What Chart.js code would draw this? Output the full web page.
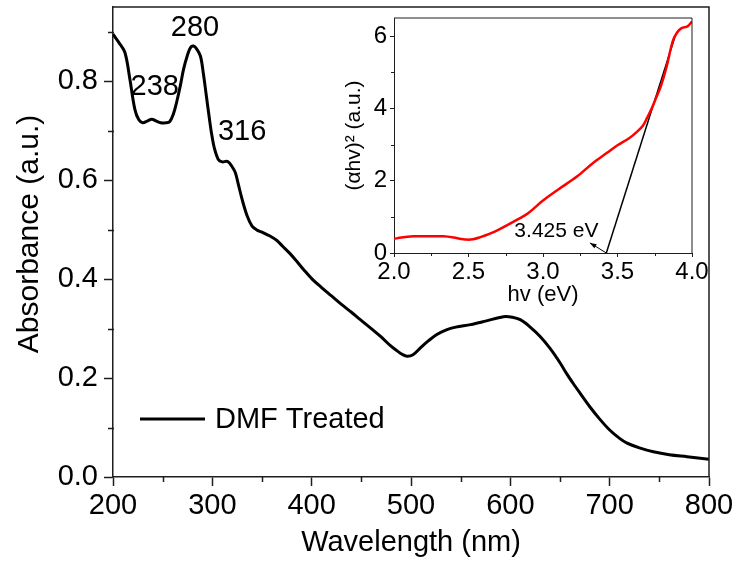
<!DOCTYPE html>
<html>
<head>
<meta charset="utf-8">
<title>DMF Treated absorbance</title>
<script src="https://cdn.jsdelivr.net/npm/chart.js@4.4.1/dist/chart.umd.min.js"></script>
<style>
  html, body { margin: 0; padding: 0; background: #fff; }
  #wrap { position: relative; width: 736px; height: 563px; }
  #main { position: absolute; left: 0; top: 0; }
  #inset { position: absolute; left: 330px; top: 0; }
</style>
</head>
<body>
<div id="wrap">
  <canvas id="main" width="736" height="563"></canvas>
  <canvas id="inset" width="380" height="310"></canvas>
</div>
<script>
// UV-vis spectrum (nm, a.u.)
const wavelength = [200, 206, 212, 217, 222, 226, 230, 235, 239, 243, 248, 253, 257, 261, 264, 268, 271, 275, 278, 281,
  284, 288, 291, 294, 297, 299, 302, 306, 310, 314, 316, 319, 323, 326, 330, 335, 340, 345, 351, 358,
  365, 371, 378, 385, 392, 401, 410, 420, 430, 440, 449, 460, 470, 479, 486, 491, 496, 502, 510, 518, 526,
  535, 545, 560, 575, 593, 602, 610, 620, 630, 640, 650, 657, 663, 670, 680, 690, 700, 710, 717, 730,
  744, 760, 778, 800];
const absorbance = [0.895, 0.878, 0.858, 0.804, 0.743, 0.722, 0.716, 0.720, 0.723, 0.720, 0.716, 0.716, 0.718, 0.735, 0.757, 0.793, 0.824, 0.853, 0.868, 0.871,
  0.866, 0.851, 0.815, 0.770, 0.725, 0.697, 0.665, 0.642, 0.637, 0.638, 0.637, 0.630, 0.616, 0.593, 0.561, 0.528, 0.507, 0.499, 0.494, 0.487,
  0.478, 0.466, 0.452, 0.436, 0.419, 0.399, 0.383, 0.366, 0.349, 0.333, 0.318, 0.300, 0.283, 0.266, 0.255, 0.248, 0.244, 0.247, 0.262, 0.276, 0.288,
  0.297, 0.303, 0.308, 0.315, 0.324, 0.323, 0.318, 0.303, 0.284, 0.260, 0.231, 0.208, 0.190, 0.170, 0.142, 0.117, 0.095, 0.078, 0.069, 0.059,
  0.051, 0.045, 0.041, 0.036];
const mainXTicks = [200, 300, 400, 500, 600, 700, 800];
const mainXMinor = [250, 350, 450, 550, 650, 750];
const mainYTicks = [0, 0.2, 0.4, 0.6, 0.8];
const mainYMinor = [0.1, 0.3, 0.5, 0.7, 0.9];
const peakText = ['238', '280', '316'];
const peakTextX = [242, 282.5, 330];
const peakTextY = [0.789, 0.907, 0.697];

// Tauc plot (eV, (αhv)^2)
const photonEnergy = [2.00, 2.05, 2.13, 2.23, 2.33, 2.40, 2.45, 2.49, 2.53, 2.58, 2.64, 2.70, 2.80, 2.90, 3.00, 3.10, 3.23, 3.33, 3.43, 3.50,
  3.58, 3.63, 3.67, 3.70, 3.73, 3.76, 3.79, 3.83, 3.87, 3.90, 3.93, 3.97, 4.00];
const taucValues = [0.39, 0.43, 0.46, 0.465, 0.46, 0.43, 0.39, 0.37, 0.38, 0.44, 0.53, 0.64, 0.86, 1.10, 1.45, 1.75, 2.12, 2.47, 2.77, 2.98,
  3.18, 3.35, 3.52, 3.75, 4.00, 4.30, 4.60, 5.16, 5.85, 6.10, 6.22, 6.27, 6.40];
const fitEnergy = [3.425, 3.886];
const fitValues = [0, 5.99];
const insetXTicks = [2.0, 2.5, 3.0, 3.5, 4.0];
const insetXMinor = [2.25, 2.75, 3.25, 3.75];
const insetYTicks = [0, 2, 4, 6];
const insetYMinor = [1, 3, 5];
const gapText = '3.425 eV';

const FONT = "'Liberation Sans', Arial, sans-serif";
const AXIS = '#1e1e1e';

function pts(xs, ys) { return xs.map((v, i) => ({ x: v, y: ys[i] })); }

// frame on top/right plus outward minor ticks
const frameTicks = {
  id: 'frameTicks',
  afterDraw(chart, args, o) {
    const { ctx, chartArea: a, scales: { x, y } } = chart;
    ctx.save();
    ctx.strokeStyle = AXIS;
    ctx.lineWidth = o.width;
    ctx.beginPath();
    o.xMinor.forEach(v => {
      const px = Math.round(x.getPixelForValue(v)) + 0.5;
      ctx.moveTo(px, a.bottom); ctx.lineTo(px, a.bottom + o.len);
    });
    o.yMinor.forEach(v => {
      const py = Math.round(y.getPixelForValue(v)) + 0.5;
      ctx.moveTo(a.left + 1, py); ctx.lineTo(a.left - o.len, py);
    });
    ctx.stroke();
    ctx.lineWidth = o.frame;
    ctx.beginPath();
    ctx.moveTo(a.left, a.top); ctx.lineTo(a.right, a.top); ctx.lineTo(a.right, a.bottom);
    ctx.stroke();
    ctx.restore();
  }
};

// peak numbers, legend entry and rotated y title
const mainNotes = {
  id: 'mainNotes',
  afterDraw(chart) {
    const { ctx, scales: { x, y } } = chart;
    ctx.save();
    ctx.fillStyle = '#000';
    ctx.font = '29px ' + FONT;
    ctx.textAlign = 'center';
    ctx.textBaseline = 'middle';
    peakText.forEach((t, i) => ctx.fillText(t, x.getPixelForValue(peakTextX[i]), y.getPixelForValue(peakTextY[i])));
    ctx.strokeStyle = '#000';
    ctx.lineWidth = 3;
    ctx.beginPath();
    ctx.moveTo(140, 419); ctx.lineTo(205, 419);
    ctx.stroke();
    ctx.textAlign = 'left';
    ctx.fillText(chart.data.datasets[0].label, 215, 420);
    ctx.translate(30, 234);
    ctx.rotate(-Math.PI / 2);
    ctx.textAlign = 'center';
    ctx.font = '30px ' + FONT;
    ctx.fillText('Absorbance (a.u.)', 0, 0);
    ctx.restore();
  }
};

// band gap label with arrow to the intercept
const gapNote = {
  id: 'gapNote',
  afterDraw(chart) {
    const { ctx, scales: { x, y } } = chart;
    const x0 = x.getPixelForValue(fitEnergy[0]), y0 = y.getPixelForValue(fitValues[0]);
    const x1 = x.getPixelForValue(3.315), y1 = y.getPixelForValue(0.28);
    ctx.save();
    ctx.strokeStyle = '#000';
    ctx.fillStyle = '#000';
    ctx.lineWidth = 1;
    ctx.beginPath();
    ctx.moveTo(x0, y0); ctx.lineTo(x1, y1);
    ctx.stroke();
    const ang = Math.atan2(y1 - y0, x1 - x0);
    ctx.beginPath();
    ctx.moveTo(x1, y1);
    ctx.lineTo(x1 - 7 * Math.cos(ang - 0.35), y1 - 7 * Math.sin(ang - 0.35));
    ctx.lineTo(x1 - 7 * Math.cos(ang + 0.35), y1 - 7 * Math.sin(ang + 0.35));
    ctx.closePath();
    ctx.fill();
    ctx.font = '21px ' + FONT;
    ctx.textAlign = 'center';
    ctx.textBaseline = 'middle';
    ctx.fillText(gapText, x.getPixelForValue(3.09), y.getPixelForValue(0.6));
    ctx.restore();
  }
};

function axis(ticks, opts) {
  return {
    type: 'linear',
    min: opts.min,
    max: opts.max,
    afterBuildTicks: s => { s.ticks = ticks.map(v => ({ value: v })); },
    afterFit: s => {
      if (opts.width) s.width = opts.width;
      if (opts.height) s.height = opts.height;
      s.paddingTop = 0; s.paddingBottom = 0; s.paddingLeft = 0; s.paddingRight = 0;
    },
    border: { display: true, color: AXIS, width: opts.frame },
    grid: { drawOnChartArea: false, drawTicks: true, tickLength: opts.tick, tickWidth: opts.frame, tickColor: AXIS },
    ticks: {
      color: '#000',
      padding: opts.pad,
      font: { family: FONT, size: opts.tickSize },
      callback: opts.fmt,
      maxRotation: 0,
      autoSkip: false
    },
    title: {
      display: !!opts.title,
      text: opts.title,
      color: '#000',
      font: { family: FONT, size: opts.titleSize },
      padding: opts.titlePad
    }
  };
}

new Chart(document.getElementById('main'), {
  type: 'line',
  data: {
    datasets: [{
      label: 'DMF Treated',
      data: pts(wavelength, absorbance),
      borderColor: '#000',
      borderWidth: 3,
      pointRadius: 0,
      tension: 0.35,
      fill: false
    }]
  },
  options: {
    responsive: false,
    animation: false,
    devicePixelRatio: 1,
    events: [],
    layout: { padding: { left: 0, top: 7, right: 27, bottom: 0 } },
    plugins: {
      legend: { display: false },
      tooltip: { enabled: false },
      frameTicks: { xMinor: mainXMinor, yMinor: mainYMinor, len: 5, width: 1.5, frame: 1.5 }
    },
    scales: {
      x: axis(mainXTicks, { min: 200, max: 800, height: 86, tick: 9, frame: 1.5, pad: 3, tickSize: 29,
        fmt: v => String(v), title: 'Wavelength (nm)', titleSize: 29, titlePad: { top: 0, bottom: 3 } }),
      y: axis(mainYTicks, { min: 0, max: 0.95, width: 113, tick: 9, frame: 1.5, pad: 6, tickSize: 29,
        fmt: v => v.toFixed(1), title: '' })
    }
  },
  plugins: [frameTicks, mainNotes]
});

new Chart(document.getElementById('inset'), {
  type: 'line',
  data: {
    datasets: [{
      label: 'Tauc',
      data: pts(photonEnergy, taucValues),
      borderColor: '#ff0000',
      borderWidth: 2.5,
      pointRadius: 0,
      tension: 0.35,
      fill: false
    }, {
      label: 'Fit',
      data: pts(fitEnergy, fitValues),
      borderColor: '#000',
      borderWidth: 1.5,
      pointRadius: 0,
      fill: false
    }]
  },
  options: {
    responsive: false,
    animation: false,
    devicePixelRatio: 1,
    events: [],
    layout: { padding: { left: 0, top: 18, right: 18, bottom: 0 } },
    plugins: {
      legend: { display: false },
      tooltip: { enabled: false },
      frameTicks: { xMinor: insetXMinor, yMinor: insetYMinor, len: 3, width: 1, frame: 1 }
    },
    scales: {
      x: axis(insetXTicks, { min: 2, max: 4, height: 57, tick: 4, frame: 1, pad: 1, tickSize: 24,
        fmt: v => v.toFixed(1), title: 'hv (eV)', titleSize: 22, titlePad: { top: 0, bottom: 2 } }),
      y: axis(insetYTicks, { min: 0, max: 6.5, width: 64, tick: 4, frame: 1, pad: 3, tickSize: 24,
        fmt: v => String(v), title: '(αhv)² (a.u.)', titleSize: 21, titlePad: { top: 12, bottom: 0 } })
    }
  },
  plugins: [frameTicks, gapNote]
});
</script>
</body>
</html>
